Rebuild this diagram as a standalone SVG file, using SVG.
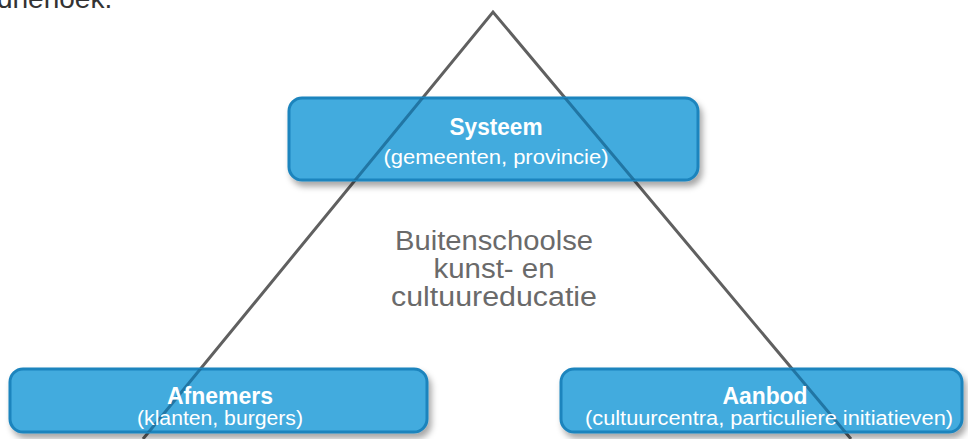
<svg xmlns="http://www.w3.org/2000/svg" width="968" height="439" viewBox="0 0 968 439">
<style>
.box{fill:#42abde;stroke:#1d84bd;stroke-width:3}
.title{font-family:"Liberation Sans",Arial,sans-serif;font-weight:bold;font-size:23px;fill:#ffffff;text-anchor:middle}
.sub{font-family:"Liberation Sans",Arial,sans-serif;font-size:20px;fill:#ffffff;text-anchor:middle}
.center{font-family:"Liberation Sans",Arial,sans-serif;font-size:27px;fill:#6a6a6a;text-anchor:middle}
.line{stroke:#606060;stroke-width:3;fill:none}
.inline{stroke:#1b6c9a;stroke-width:3;fill:none;opacity:0.85}
</style>
<defs>
<filter id="sh" x="-10%" y="-20%" width="125%" height="160%">
<feDropShadow dx="3" dy="5" stdDeviation="3" flood-color="#000000" flood-opacity="0.35"/>
</filter>
<clipPath id="boxes">
<rect x="289" y="98" width="409" height="82" rx="13"/>
<rect x="10" y="369" width="417" height="63" rx="13"/>
<rect x="561" y="369" width="401" height="63" rx="13"/>
</clipPath>
</defs>
<rect width="968" height="439" fill="#ffffff"/>
<text x="-3" y="8" font-family="Liberation Sans, Arial, sans-serif" font-size="28" fill="#333333">driehoek.</text>
<g id="connectors-base">
<polyline class="line" points="143,439 493,12 851,439"/>
</g>
<g id="systeem">
<rect class="box" x="289" y="98" width="409" height="82" rx="13" filter="url(#sh)"/>
</g>
<g id="afnemers">
<rect class="box" x="10" y="369" width="417" height="63" rx="13" filter="url(#sh)"/>
</g>
<g id="aanbod">
<rect class="box" x="561" y="369" width="401" height="63" rx="13" filter="url(#sh)"/>
</g>
<g id="connectors">
<polyline class="inline" points="143,439 493,12 851,439" clip-path="url(#boxes)"/>
</g>
<g id="labels">
<text class="title" x="496" y="135" textLength="93" lengthAdjust="spacingAndGlyphs">Systeem</text>
<text class="sub" x="496" y="164" textLength="225" lengthAdjust="spacingAndGlyphs">(gemeenten, provincie)</text>
<text class="title" x="220" y="404" textLength="106" lengthAdjust="spacingAndGlyphs">Afnemers</text>
<text class="sub" x="220" y="425" textLength="166" lengthAdjust="spacingAndGlyphs">(klanten, burgers)</text>
<text class="title" x="765" y="404" textLength="85" lengthAdjust="spacingAndGlyphs">Aanbod</text>
<text class="sub" x="769" y="425" textLength="368" lengthAdjust="spacingAndGlyphs">(cultuurcentra, particuliere initiatieven)</text>
</g>
<g id="center">
<text class="center" x="494" y="250" textLength="198" lengthAdjust="spacingAndGlyphs">Buitenschoolse</text>
<text class="center" x="494" y="278" textLength="121" lengthAdjust="spacingAndGlyphs">kunst- en</text>
<text class="center" x="494" y="306" textLength="206" lengthAdjust="spacingAndGlyphs">cultuureducatie</text>
</g>
</svg>
